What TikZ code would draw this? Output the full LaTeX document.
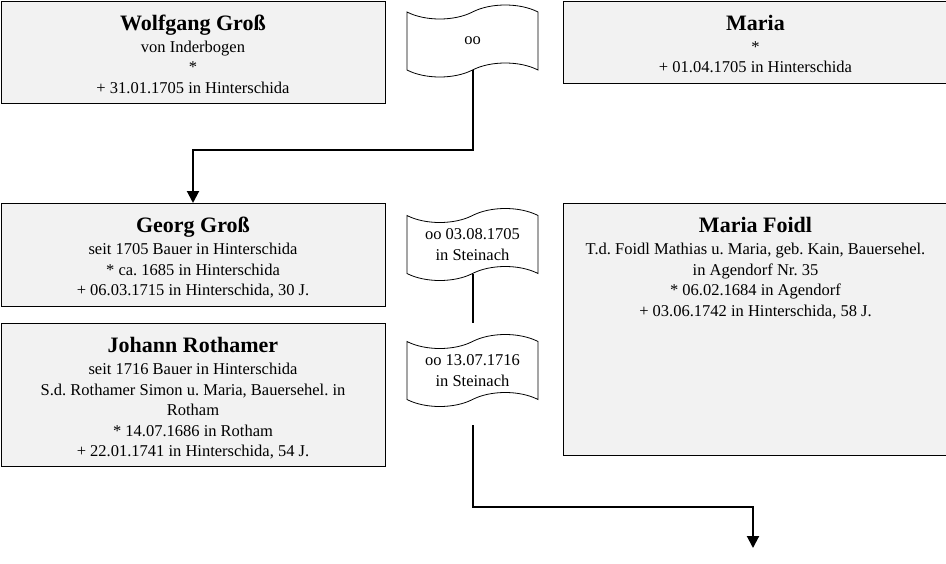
\documentclass[tikz,border=0pt]{standalone}
\usepackage{fontspec}
\setmainfont{Liberation Serif}
\usetikzlibrary{shapes.symbols,arrows.meta,positioning,calc}
\definecolor{boxgray}{HTML}{F2F2F2}
\frenchspacing
\newcommand{\bodyfont}{\fontsize{16.5}{20.5}\selectfont}
\newcommand{\namefont}{\fontsize{22}{24}\selectfont\bfseries}
% one person card: name, height, lines
\newcommand{\card}[3]{\parbox[c][#2][t]{384pt}{\centering\bodyfont
  \rule{0pt}{29pt}{\namefont #1}\\[1.5pt] #3}}
\tikzset{
  person/.style={draw, fill=boxgray, line width=1pt, inner sep=0pt, anchor=north west},
  marriage/.style={tape, draw, fill=white, line width=0.8pt, minimum width=131pt,
    minimum height=72pt, tape bend height=14pt, align=center, font=\bodyfont},
  conn/.style={line width=2pt},
  arr/.style={conn, -{Triangle[width=12pt,length=12pt]}}
}
\begin{document}
\begin{tikzpicture}[x=1pt,y=-1pt]
    \useasboundingbox (0,0) rectangle (946,563);

    \node[person] (wolf) at (0.5,0.5) {\card{Wolfgang Groß}{102pt}{von Inderbogen\\ {*}\\ + 31.01.1705 in Hinterschida}};
    \node[person] (maria) at (563,0.5) {\card{Maria}{82pt}{{*}\\ + 01.04.1705 in Hinterschida}};
    \node[person] (georg) at (0.5,203) {\card{Georg Groß}{103pt}{seit 1705 Bauer in Hinterschida\\ {*} ca. 1685 in Hinterschida\\ + 06.03.1715 in Hinterschida, 30 J.}};
    \node[person] (johann) at (0.5,323) {\card{Johann Rothamer}{143pt}{seit 1716 Bauer in Hinterschida\\ S.d. Rothamer Simon u. Maria, Bauersehel. in\\ Rotham\\ {*} 14.07.1686 in Rotham\\ + 22.01.1741 in Hinterschida, 54 J.}};
    \node[person] (foidl) at (563,203) {\card{Maria Foidl}{252pt}{T.d. Foidl Mathias u. Maria, geb. Kain, Bauersehel.\\ in Agendorf Nr. 35\\ {*} 06.02.1684 in Agendorf\\ + 03.06.1742 in Hinterschida, 58 J.}};

    \node[marriage] (oo1) at (472.5,41) {oo};
    \node[marriage] (oo2) at (472.5,244.5) {oo 03.08.1705\\in Steinach};
    \node[marriage] (oo3) at (472.5,370.5) {oo 13.07.1716\\in Steinach};

    \coordinate (k1) at (0,150);
    \coordinate (s3) at (472.5,425);
    \coordinate (child) at (753,548);

    \draw[arr] (oo1.south) -- (oo1.south |- k1) -| (georg.north);
    \draw[conn] (oo2.south) -- (oo2.south |- johann.north);
    \draw[arr] (s3) -- ++(0,82) -| (child);
\end{tikzpicture}
\end{document}
